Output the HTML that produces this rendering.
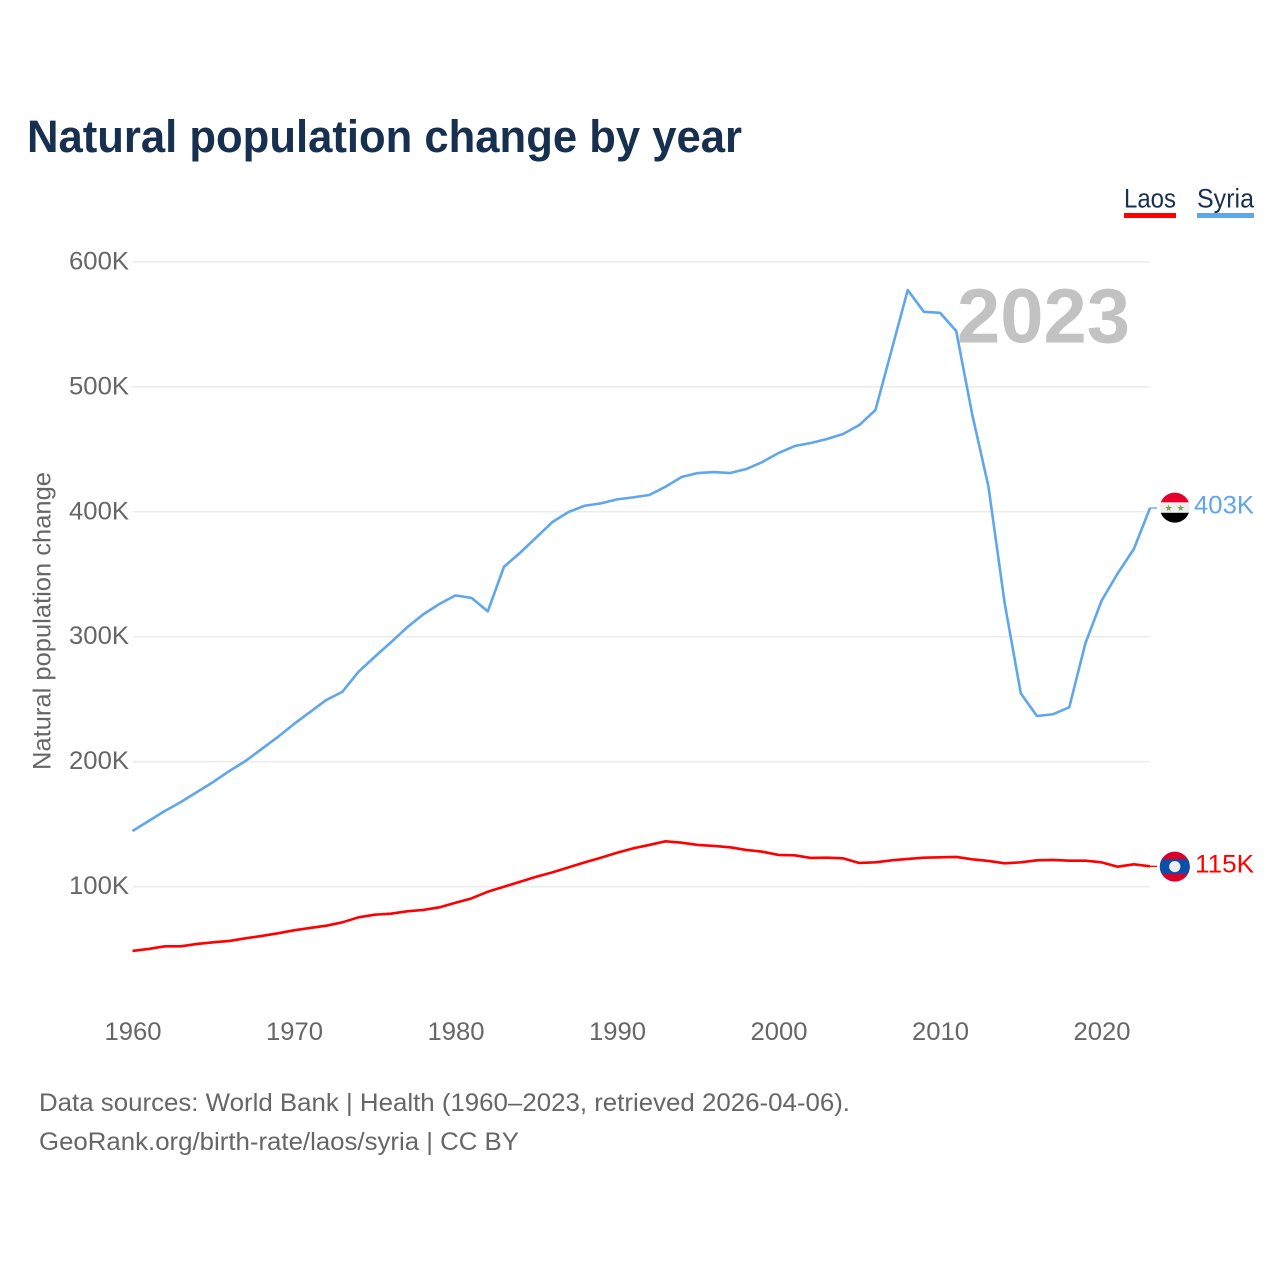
<!DOCTYPE html>
<html lang="en">
<head>
<meta charset="utf-8">
<title>Natural population change by year</title>
<style>
html,body{margin:0;padding:0;background:#fff;}
svg{display:block;font-family:"Liberation Sans",sans-serif;}
</style>
</head>
<body>
<svg id="chart" xmlns="http://www.w3.org/2000/svg" width="1280" height="1280" viewBox="0 0 1280 1280">
  <rect x="0" y="0" width="1280" height="1280" fill="#fff"/>
  <text x="27" y="152" font-size="45" font-weight="700" fill="#17304f" textLength="715" lengthAdjust="spacingAndGlyphs">Natural population change by year</text>
  <g>
    <g>
      <text x="1124" y="207.5" font-size="26.5" fill="#17304f" textLength="52" lengthAdjust="spacingAndGlyphs">Laos</text>
      <rect x="1124" y="213" width="52" height="5" fill="#ff0000"/>
    </g>
    <g>
      <text x="1197" y="207.5" font-size="26.5" fill="#17304f" textLength="57" lengthAdjust="spacingAndGlyphs">Syria</text>
      <rect x="1197" y="213" width="57" height="5" fill="#5fa6ea"/>
    </g>
  </g>
  <g id="grid"></g>
  <g id="yticks"></g>
  <g id="xticks"></g>
  <text transform="translate(50.5 770) rotate(-90)" font-size="25" fill="#666" textLength="298" lengthAdjust="spacingAndGlyphs">Natural population change</text>
  <text x="957" y="342.5" font-size="77" font-weight="700" fill="#c2c2c2" textLength="173" lengthAdjust="spacingAndGlyphs">2023</text>
  <g id="series"></g>
  <g>
    <clipPath id="clip-syria"><circle cx="1174.8" cy="507.6" r="15"/></clipPath>
    <g clip-path="url(#clip-syria)">
      <rect x="1159" y="492" width="32" height="10.4" fill="#e4002b"/>
      <rect x="1159" y="502.4" width="32" height="10.4" fill="#eeeeee"/>
      <rect x="1159" y="512.8" width="32" height="11" fill="#000"/>
      <text x="1168.7" y="511" font-size="9" text-anchor="middle" fill="#6fa84f" font-family="'DejaVu Sans',sans-serif">★</text>
      <text x="1180.7" y="511" font-size="9" text-anchor="middle" fill="#6fa84f" font-family="'DejaVu Sans',sans-serif">★</text>
    </g>
  </g>
  <g>
    <clipPath id="clip-laos"><circle cx="1174.8" cy="866.6" r="15"/></clipPath>
    <g clip-path="url(#clip-laos)">
      <rect x="1159" y="851" width="32" height="32" fill="#d9002b"/>
      <rect x="1159" y="859.2" width="32" height="14.6" fill="#0a4fa8"/>
      <circle cx="1174.8" cy="866.6" r="5.6" fill="#eeeeee"/>
    </g>
  </g>
  <text id="label-syria" x="1194" y="513.5" font-size="25" fill="#5fa6ea" textLength="60" lengthAdjust="spacingAndGlyphs"></text>
  <text id="label-laos" x="1195" y="872.5" font-size="25" fill="#ff0000" textLength="59" lengthAdjust="spacingAndGlyphs"></text>
  <text x="39" y="1111" font-size="25" fill="#666" textLength="811" lengthAdjust="spacingAndGlyphs">Data sources: World Bank | Health (1960–2023, retrieved 2026-04-06).</text>
  <text x="39" y="1150" font-size="25" fill="#666" textLength="480" lengthAdjust="spacingAndGlyphs">GeoRank.org/birth-rate/laos/syria | CC BY</text>
</svg>
<script>
const startYear = 1960;
const endYear = 2023;
const xTickYears = [1960, 1970, 1980, 1990, 2000, 2010, 2020];
const yTickValues = [100, 200, 300, 400, 500, 600];
const syriaValues = [144.6,152.6,160.6,167.8,175.8,183.8,192.6,200.6,210.2,219.8,230.2,239.8,249.4,256,272,284,295.5,307.5,317.9,326.2,333.1,331,320.3,356,367.2,379.5,391.8,399.8,404.8,406.7,409.9,411.5,413.4,420,427.8,431,431.8,431,434.2,439.8,447,452.6,455,458.2,462.2,469.4,481.4,529.4,577.4,560,559.2,544.6,477.4,420,327,254.7,236.6,238,243.5,294.7,328.8,350.7,370.2,403];
const laosValues = [48.6,50.2,52.3,52.3,54.2,55.5,56.6,58.7,60.6,62.7,65.1,67,68.8,71.5,75.5,77.6,78.4,80.3,81.4,83.5,87.2,90.7,96,100,104,108,111.5,115.5,119.5,123.2,127.2,130.7,133.4,136.3,135.2,133.4,132.6,131.5,129.4,128,125.4,125.1,123,123.2,122.7,119,119.5,121.1,122.2,123.2,123.5,123.8,121.9,120.6,118.7,119.5,121.1,121.4,120.8,120.8,119.5,116,117.9,116.3];
const syriaEndLabel = "403K";
const laosEndLabel = "115K";

const NS = "http://www.w3.org/2000/svg";
function xScale(year) {
  return 132.5 + (year - startYear) * (1150 - 132.5) / (endYear - startYear);
}
function yScale(value) {
  return 886.7 - (value - 100) * (886.7 - 261.8) / 500;
}
function make(tag, parentId) {
  const el = document.createElementNS(NS, tag);
  document.getElementById(parentId).appendChild(el);
  return el;
}
yTickValues.forEach(function (v) {
  const line = make("line", "grid");
  
  
  line.setAttribute("x1", xScale(startYear));
  line.setAttribute("x2", xScale(endYear));
  line.setAttribute("y1", yScale(v));
  line.setAttribute("y2", yScale(v));
  line.setAttribute("stroke", "#ececec");
  line.setAttribute("stroke-width", "1.6");
  const label = make("text", "yticks");
  
  
  label.setAttribute("x", 69);
  label.setAttribute("y", yScale(v) + 7.5);
  label.setAttribute("font-size", "25");
  label.setAttribute("fill", "#666");
  label.setAttribute("textLength", 60);
  label.setAttribute("lengthAdjust", "spacingAndGlyphs");
  label.textContent = v + "K";
});
xTickYears.forEach(function (y) {
  const label = make("text", "xticks");
  
  
  label.setAttribute("x", xScale(y) - 28);
  label.setAttribute("y", 1040);
  label.setAttribute("font-size", "25");
  label.setAttribute("fill", "#666");
  label.setAttribute("textLength", 57);
  label.setAttribute("lengthAdjust", "spacingAndGlyphs");
  label.textContent = y;
});
function drawSeries(values, color, key) {
  const pts = values.map(function (v, i) {
    return xScale(startYear + i).toFixed(2) + "," + yScale(v).toFixed(2);
  });
  const line = make("polyline", "series");
  
  
  line.setAttribute("points", pts.join(" "));
  line.setAttribute("fill", "none");
  line.setAttribute("stroke", color);
  line.setAttribute("stroke-width", "2.6");
  line.setAttribute("stroke-linejoin", "round");
  const last = values[values.length - 1];
  const leader = make("line", "series");
  
  
  leader.setAttribute("x1", xScale(endYear));
  leader.setAttribute("x2", xScale(endYear) + 7);
  leader.setAttribute("y1", yScale(last));
  leader.setAttribute("y2", yScale(last));
  leader.setAttribute("stroke", color);
  leader.setAttribute("stroke-width", "1.3");
}
drawSeries(syriaValues, "#5fa6ea", "syria");
drawSeries(laosValues, "#ff0000", "laos");
document.getElementById("label-syria").textContent = syriaEndLabel;
document.getElementById("label-laos").textContent = laosEndLabel;
</script>
</body>
</html>
